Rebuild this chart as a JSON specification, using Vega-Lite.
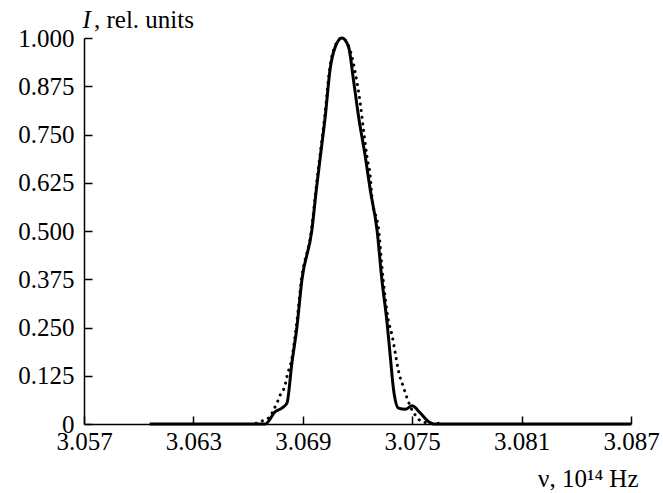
{
  "$schema": "https://vega.github.io/schema/vega-lite/v6.json",
  "width": 547,
  "height": 386,
  "autosize": {"type": "none"},
  "padding": {"left": 84, "top": 38, "right": 32, "bottom": 69},
  "background": "white",
  "config": {
    "view": {"stroke": null},
    "font": "Liberation Serif",
    "axis": {"grid": false, "domainColor": "black", "domainWidth": 1.5, "tickColor": "black", "tickWidth": 1.5, "labelColor": "black", "titleColor": "black", "labelFont": "Liberation Serif", "titleFont": "Liberation Serif", "labelFontSize": 25, "titleFontSize": 25, "titleFontWeight": "normal"}
  },
  "title": {"text": ", rel. units", "anchor": "start", "frame": "group", "font": "Liberation Serif", "fontSize": 25, "fontWeight": "normal", "color": "black", "dx": 10, "dy": 34, "offset": 8},
  "datasets": {
    "measured": [
      {"nu": 3.0606, "I": 0}, {"nu": 3.06694, "I": 0}, {"nu": 3.06749, "I": 0.032}, {"nu": 3.06785, "I": 0.041},
      {"nu": 3.06813, "I": 0.054}, {"nu": 3.0684, "I": 0.157}, {"nu": 3.06868, "I": 0.252}, {"nu": 3.06895, "I": 0.373},
      {"nu": 3.0695, "I": 0.503}, {"nu": 3.06974, "I": 0.606}, {"nu": 3.06996, "I": 0.692}, {"nu": 3.07023, "I": 0.796},
      {"nu": 3.0705, "I": 0.92}, {"nu": 3.07078, "I": 0.977}, {"nu": 3.07115, "I": 1.0}, {"nu": 3.07151, "I": 0.977},
      {"nu": 3.07178, "I": 0.891}, {"nu": 3.07206, "I": 0.796}, {"nu": 3.07243, "I": 0.692}, {"nu": 3.0727, "I": 0.606},
      {"nu": 3.07307, "I": 0.503}, {"nu": 3.07334, "I": 0.373}, {"nu": 3.07362, "I": 0.263}, {"nu": 3.0738, "I": 0.174},
      {"nu": 3.07398, "I": 0.088}, {"nu": 3.07425, "I": 0.041}, {"nu": 3.07462, "I": 0.038}, {"nu": 3.07499, "I": 0.047},
      {"nu": 3.07545, "I": 0.028}, {"nu": 3.0759, "I": 0.006}, {"nu": 3.07616, "I": 0}, {"nu": 3.087, "I": 0}
    ],
    "model": [
      {"nu": 3.06644, "I": 0.002}, {"nu": 3.06666, "I": 0.006}, {"nu": 3.06721, "I": 0.019}, {"nu": 3.06739, "I": 0.036},
      {"nu": 3.06758, "I": 0.054}, {"nu": 3.06776, "I": 0.075}, {"nu": 3.06803, "I": 0.101}, {"nu": 3.06813, "I": 0.123},
      {"nu": 3.0684, "I": 0.17}, {"nu": 3.06866, "I": 0.26}, {"nu": 3.06893, "I": 0.375}, {"nu": 3.06948, "I": 0.505},
      {"nu": 3.06972, "I": 0.608}, {"nu": 3.06994, "I": 0.695}, {"nu": 3.07021, "I": 0.8}, {"nu": 3.07048, "I": 0.922},
      {"nu": 3.07076, "I": 0.978}, {"nu": 3.07113, "I": 1.0}, {"nu": 3.07155, "I": 0.975}, {"nu": 3.07188, "I": 0.909},
      {"nu": 3.07215, "I": 0.831}, {"nu": 3.07233, "I": 0.762}, {"nu": 3.07252, "I": 0.692}, {"nu": 3.0727, "I": 0.641},
      {"nu": 3.07279, "I": 0.589}, {"nu": 3.07316, "I": 0.503}, {"nu": 3.07341, "I": 0.373}, {"nu": 3.07369, "I": 0.269},
      {"nu": 3.07389, "I": 0.231}, {"nu": 3.07407, "I": 0.184}, {"nu": 3.07425, "I": 0.137}, {"nu": 3.07453, "I": 0.094},
      {"nu": 3.07472, "I": 0.067}, {"nu": 3.0749, "I": 0.045}, {"nu": 3.07517, "I": 0.023}, {"nu": 3.07554, "I": 0.006},
      {"nu": 3.07609, "I": 0.002}, {"nu": 3.07664, "I": 0.002}
    ]
  },
  "encoding": {
    "x": {"field": "nu", "type": "quantitative",
      "scale": {"domain": [3.057, 3.087], "nice": false, "zero": false},
      "axis": {"values": [3.057, 3.063, 3.069, 3.075, 3.081, 3.087], "format": ".3f", "tickSize": -8, "labelPadding": 13, "labelFlush": false,
        "title": "ν, 10¹⁴ Hz", "titleAnchor": "end", "titleAlign": "right", "titleX": 554, "titlePadding": 12}},
    "y": {"field": "I", "type": "quantitative",
      "scale": {"domain": [0, 1], "nice": false},
      "axis": {"values": [0, 0.125, 0.25, 0.375, 0.5, 0.625, 0.75, 0.875, 1], "labelExpr": "datum.value == 0 ? '0' : format(datum.value, '.3f')", "tickSize": -8, "labelPadding": 18,
        "title": "I", "titleFontStyle": "italic", "titleAngle": 0, "titleAlign": "left", "titleBaseline": "alphabetic", "titleX": -2, "titleY": -11}}
  },
  "layer": [
    {"data": {"name": "model"}, "mark": {"type": "line", "color": "black", "strokeWidth": 3, "strokeDash": [0.1, 6.5], "strokeCap": "round", "interpolate": "monotone"}},
    {"data": {"name": "measured"}, "mark": {"type": "line", "color": "black", "strokeWidth": 3, "interpolate": "monotone"}}
  ]
}
